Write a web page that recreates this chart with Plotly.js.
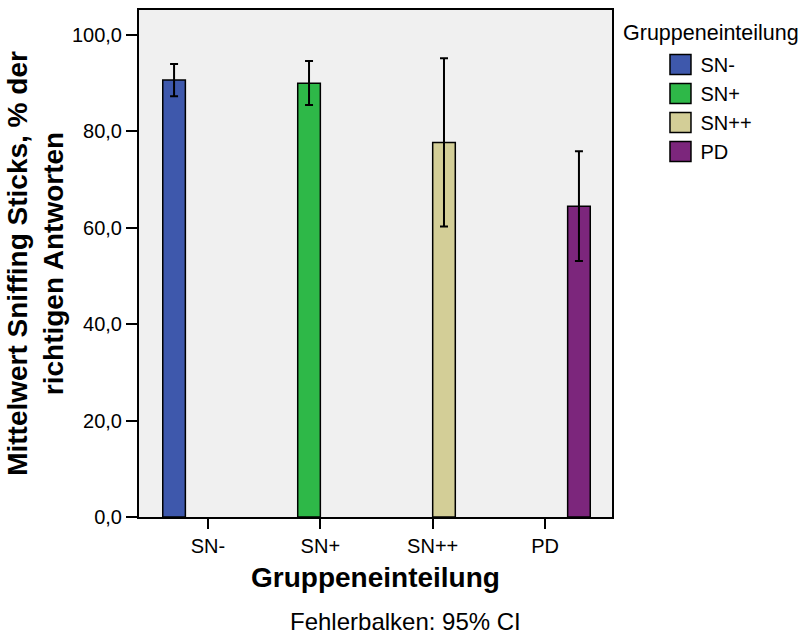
<!DOCTYPE html>
<html>
<head>
<meta charset="utf-8">
<script src="https://cdn.plot.ly/plotly-3.0.1.min.js"></script>
<style>
  html, body { margin: 0; padding: 0; background: #ffffff; }
  #chart { width: 803px; height: 638px; }
  .legendpoints path { vector-effect: non-scaling-stroke; }
</style>
</head>
<body>
<div id="chart"></div>
<script>
// ---- data ----
const categories = ['SN-', 'SN+', 'SN++', 'PD'];
const groups = ['SN-', 'SN+', 'SN++', 'PD'];
const means = [90.7, 90.0, 77.7, 64.5];
const ciLower = [87.3, 85.5, 60.3, 53.1];
const ciUpper = [94.0, 94.6, 95.2, 75.9];
const colors = ['#3E58AC', '#2EB848', '#D3CE97', '#7C267C'];
const yTicks = [0, 20, 40, 60, 80, 100];

const FONT = 'Liberation Sans, Arial, Helvetica, sans-serif';

const traces = groups.map((g, i) => ({
  type: 'bar',
  name: g,
  x: categories,
  y: categories.map((c, j) => (j === i ? means[i] : null)),
  marker: { color: colors[i], line: { color: '#000000', width: 1.5 } },
  error_y: {
    type: 'data',
    symmetric: false,
    array: categories.map((c, j) => (j === i ? ciUpper[i] - means[i] : null)),
    arrayminus: categories.map((c, j) => (j === i ? means[i] - ciLower[i] : null)),
    color: '#000000',
    thickness: 2,
    width: 4
  },
  hoverinfo: 'skip'
}));

const layout = {
  width: 803,
  height: 638,
  margin: { l: 139, r: 191, t: 10, b: 121 },
  paper_bgcolor: '#ffffff',
  plot_bgcolor: '#F0F0F0',
  font: { family: FONT, size: 20, color: '#000000' },
  separators: ',.',
  barmode: 'group',
  bargap: 0.195,
  bargroupgap: 0,
  showlegend: true,
  legend: {
    x: 1.1025, xanchor: 'left',
    y: 0.931, yanchor: 'top',
    font: { family: FONT, size: 20, color: '#000000' },
    bgcolor: 'rgba(0,0,0,0)',
    borderwidth: 0,
    traceorder: 'normal'
  },
  xaxis: {
    type: 'category',
    categoryorder: 'array',
    categoryarray: categories,
    range: [-0.614, 3.596],
    showline: true, linecolor: '#000000', linewidth: 2, mirror: true,
    ticks: 'outside', ticklen: 10, tickwidth: 2, tickcolor: '#000000',
    tickfont: { family: FONT, size: 20, color: '#000000' },
    showgrid: false, zeroline: false, fixedrange: true,
    title: { text: 'Gruppeneinteilung', font: { family: FONT, size: 28, color: '#000000', weight: 'bold' }, standoff: 11 }
  },
  yaxis: {
    range: [0, 105.2],
    tickvals: yTicks,
    tickformat: '.1f',
    showline: true, linecolor: '#000000', linewidth: 2, mirror: true,
    ticks: 'outside', ticklen: 11, tickwidth: 2, tickcolor: '#000000',
    tickfont: { family: FONT, size: 20, color: '#000000' },
    showgrid: false, zeroline: false, fixedrange: true,
    title: { text: 'Mittelwert Sniffing Sticks, % der<br>richtigen Antworten', font: { family: FONT, size: 28, color: '#000000', weight: 'bold' }, standoff: 0 }
  },
  annotations: [
    {
      text: 'Gruppeneinteilung', xref: 'paper', yref: 'paper',
      x: 1.0195, y: 0.9546, xanchor: 'left', yanchor: 'middle',
      showarrow: false, font: { family: FONT, size: 21.5, color: '#000000' }
    },
    {
      text: 'Fehlerbalken: 95% CI', xref: 'paper', yref: 'paper',
      x: 0.5624, y: -0.2071, xanchor: 'center', yanchor: 'middle',
      showarrow: false, font: { family: FONT, size: 24, color: '#000000' }
    }
  ]
};

Plotly.newPlot('chart', traces, layout, { displayModeBar: false, staticPlot: true }).then(() => {
  document.querySelectorAll('.legendpoints path').forEach(p => {
    const t = p.getAttribute('transform') || '';
    p.setAttribute('transform', t + ' scale(1.75,1.65)');
  });
});
</script>
</body>
</html>
